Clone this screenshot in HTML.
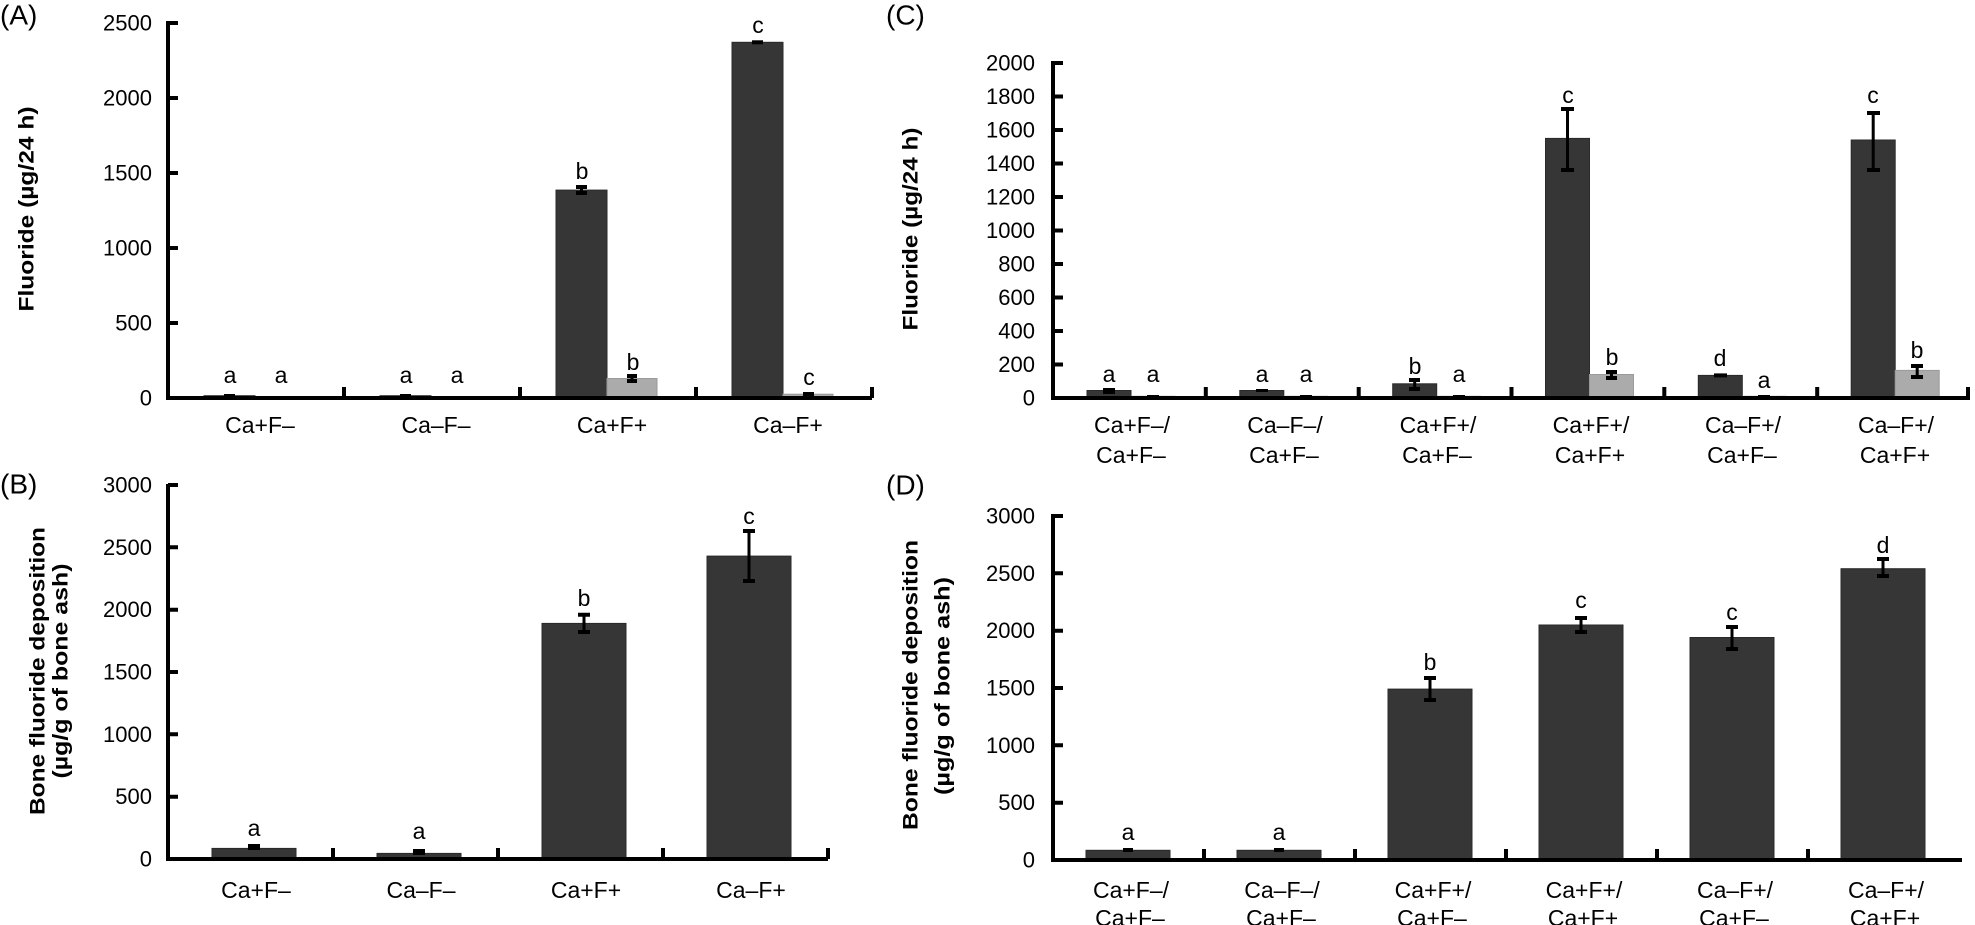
<!DOCTYPE html>
<html><head><meta charset="utf-8"><style>
html,body{margin:0;padding:0;background:#fff;}
svg{display:block;}
text{font-family:"Liberation Sans",sans-serif;fill:#000;}
.t{font-size:22px;text-anchor:end;dominant-baseline:central;}
.c{font-size:23px;text-anchor:middle;}
.l{font-size:23px;text-anchor:middle;}
.p{font-size:28px;dominant-baseline:central;}
.y{font-size:21px;font-weight:bold;text-anchor:middle;dominant-baseline:central;}
.d{fill:#363636;stroke:#2a2a2a;stroke-width:1;}
.g{fill:#ababab;stroke:#9a9a9a;stroke-width:1;}
.ax{stroke:#000;stroke-width:4;fill:none;}
.e{stroke:#000;stroke-width:3;fill:none;}
.k{stroke:#000;stroke-width:4;fill:none;}
</style></head><body>
<svg width="1975" height="925" viewBox="0 0 1975 925" xmlns="http://www.w3.org/2000/svg">
<!-- ================= PANEL A ================= -->
<text class="p" x="0" y="15">(A)</text>
<text class="y" transform="translate(27,209) rotate(-90)" textLength="205" lengthAdjust="spacingAndGlyphs">Fluoride (µg/24 h)</text>
<g>
<text class="t" x="152" y="398">0</text>
<text class="t" x="152" y="323">500</text>
<text class="t" x="152" y="248">1000</text>
<text class="t" x="152" y="173">1500</text>
<text class="t" x="152" y="98">2000</text>
<text class="t" x="152" y="23">2500</text>
</g>
<rect class="d" x="204" y="395.7" width="51" height="2.3"/>
<rect class="g" x="255" y="396.5" width="50" height="1.5"/>
<rect class="d" x="380" y="395.7" width="51" height="2.3"/>
<rect class="g" x="431" y="396.5" width="50" height="1.5"/>
<rect class="d" x="556" y="190.1" width="51" height="207.9"/>
<rect class="g" x="607" y="378.5" width="50" height="19.5"/>
<rect class="d" x="732" y="42.3" width="51" height="355.7"/>
<rect class="g" x="783" y="394.2" width="50" height="3.8"/>
<rect x="224" y="394" width="11" height="3" fill="#000"/>
<rect x="400" y="394" width="11" height="3" fill="#000"/>
<path class="e" d="M581.5 187V193"/><path class="k" d="M576 187H587M576 193H587"/>
<path class="k" d="M752 42.3H763"/>
<path class="e" d="M632 376V381"/><path class="k" d="M627 376H637M627 381H637"/>
<rect x="803" y="392" width="11" height="4" fill="#000"/>
<text class="l" x="230" y="383">a</text><text class="l" x="281" y="383">a</text>
<text class="l" x="406" y="383">a</text><text class="l" x="457" y="383">a</text>
<text class="l" x="582" y="179">b</text><text class="l" x="633" y="370">b</text>
<text class="l" x="758" y="33">c</text><text class="l" x="809" y="385">c</text>
<path class="ax" d="M168 21V398H872"/>
<path class="k" d="M168 323H178M168 248H178M168 173H178M168 98H178M168 23H178"/>
<path class="k" d="M344 398V387M520 398V387M696 398V387M872 398V387"/>
<text class="c" x="260" y="433">Ca+F–</text>
<text class="c" x="436" y="433">Ca–F–</text>
<text class="c" x="612" y="433">Ca+F+</text>
<text class="c" x="788" y="433">Ca–F+</text>

<!-- ================= PANEL B ================= -->
<text class="p" x="0" y="484">(B)</text>
<text class="y" transform="translate(38,671) rotate(-90)" textLength="288" lengthAdjust="spacingAndGlyphs">Bone fluoride deposition</text>
<text class="y" transform="translate(61,671) rotate(-90)" textLength="215" lengthAdjust="spacingAndGlyphs">(µg/g of bone ash)</text>
<text class="t" x="152" y="859">0</text>
<text class="t" x="152" y="796.7">500</text>
<text class="t" x="152" y="734.3">1000</text>
<text class="t" x="152" y="672">1500</text>
<text class="t" x="152" y="609.7">2000</text>
<text class="t" x="152" y="547.3">2500</text>
<text class="t" x="152" y="485">3000</text>
<rect class="d" x="212" y="848.4" width="84" height="10.6"/>
<rect class="d" x="377" y="853.4" width="84" height="5.6"/>
<rect class="d" x="542" y="623.4" width="84" height="235.6"/>
<rect class="d" x="707" y="556.1" width="84" height="302.9"/>
<rect x="248" y="844" width="12" height="6" fill="#000"/>
<rect x="413" y="849" width="12" height="6" fill="#000"/>
<path class="e" d="M584 614.7V632"/><path class="k" d="M578 614.7H590M578 632H590"/>
<path class="e" d="M749 531V581"/><path class="k" d="M743 531H755M743 581H755"/>
<text class="l" x="254" y="836">a</text>
<text class="l" x="419" y="839">a</text>
<text class="l" x="584" y="606">b</text>
<text class="l" x="749" y="524">c</text>
<path class="ax" d="M168 484V859H828"/>
<path class="k" d="M168 796.7H178M168 734.3H178M168 672H178M168 609.7H178M168 547.3H178M168 485H178"/>
<path class="k" d="M333 859V848M498 859V848M663 859V848M828 859V848"/>
<text class="c" x="256" y="898">Ca+F–</text>
<text class="c" x="421" y="898">Ca–F–</text>
<text class="c" x="586" y="898">Ca+F+</text>
<text class="c" x="751" y="898">Ca–F+</text>

<!-- ================= PANEL C ================= -->
<text class="p" x="886" y="15">(C)</text>
<text class="y" transform="translate(911,229) rotate(-90)" textLength="203" lengthAdjust="spacingAndGlyphs">Fluoride (µg/24 h)</text>
<text class="t" x="1035" y="398">0</text>
<text class="t" x="1035" y="364.5">200</text>
<text class="t" x="1035" y="331">400</text>
<text class="t" x="1035" y="297.5">600</text>
<text class="t" x="1035" y="264">800</text>
<text class="t" x="1035" y="230.5">1000</text>
<text class="t" x="1035" y="197">1200</text>
<text class="t" x="1035" y="163.5">1400</text>
<text class="t" x="1035" y="130">1600</text>
<text class="t" x="1035" y="96.5">1800</text>
<text class="t" x="1035" y="63">2000</text>
<rect class="d" x="1087" y="390.5" width="44" height="7.5"/>
<rect class="g" x="1131" y="396.3" width="44" height="1.7"/>
<rect class="d" x="1239.8" y="390.5" width="44" height="7.5"/>
<rect class="g" x="1283.8" y="396.3" width="44" height="1.7"/>
<rect class="d" x="1392.7" y="383.8" width="44" height="14.2"/>
<rect class="g" x="1436.7" y="396.3" width="44" height="1.7"/>
<rect class="d" x="1545.5" y="138.4" width="44" height="259.6"/>
<rect class="g" x="1589.5" y="374.5" width="44" height="23.5"/>
<rect class="d" x="1698.3" y="375.4" width="44" height="22.6"/>
<rect class="g" x="1742.3" y="396.3" width="44" height="1.7"/>
<rect class="d" x="1851.2" y="140" width="44" height="258"/>
<rect class="g" x="1895.2" y="370.4" width="44" height="27.6"/>
<rect x="1103" y="388" width="12" height="6" fill="#000"/>
<rect x="1256" y="389" width="12" height="3" fill="#000"/>
<rect x="1147" y="395" width="12" height="3" fill="#000"/>
<rect x="1300" y="395" width="12" height="3" fill="#000"/>
<rect x="1453" y="395" width="12" height="3" fill="#000"/>
<rect x="1758" y="395" width="12" height="3" fill="#000"/>
<path class="e" d="M1414.7 380V389"/><path class="k" d="M1409 380H1420M1409 389H1420"/>
<path class="e" d="M1567.5 109V170"/><path class="k" d="M1561 109H1574M1561 170H1574"/>
<path class="e" d="M1611.5 372V378"/><path class="k" d="M1606 372H1617M1606 378H1617"/>
<path class="k" d="M1714 375.4H1727"/>
<path class="e" d="M1873.2 113V170"/><path class="k" d="M1867 113H1880M1867 170H1880"/>
<path class="e" d="M1917.2 366V377"/><path class="k" d="M1911 366H1923M1911 377H1923"/>
<text class="l" x="1109" y="382">a</text><text class="l" x="1153" y="382">a</text>
<text class="l" x="1262" y="382">a</text><text class="l" x="1306" y="382">a</text>
<text class="l" x="1415" y="374">b</text><text class="l" x="1459" y="382">a</text>
<text class="l" x="1568" y="103">c</text><text class="l" x="1612" y="365">b</text>
<text class="l" x="1720" y="366">d</text><text class="l" x="1764" y="388">a</text>
<text class="l" x="1873" y="103">c</text><text class="l" x="1917" y="358">b</text>
<path class="ax" d="M1053 61V398H1970"/>
<path class="k" d="M1053 364.5H1063M1053 331H1063M1053 297.5H1063M1053 264H1063M1053 230.5H1063M1053 197H1063M1053 163.5H1063M1053 130H1063M1053 96.5H1063M1053 63H1063"/>
<path class="k" d="M1205.8 398V387M1358.7 398V387M1511.5 398V387M1664.3 398V387M1817.2 398V387M1968 398V387"/>
<text class="c" x="1132" y="433">Ca+F–/</text><text class="c" x="1131" y="463">Ca+F–</text>
<text class="c" x="1285" y="433">Ca–F–/</text><text class="c" x="1284" y="463">Ca+F–</text>
<text class="c" x="1438" y="433">Ca+F+/</text><text class="c" x="1437" y="463">Ca+F–</text>
<text class="c" x="1591" y="433">Ca+F+/</text><text class="c" x="1590" y="463">Ca+F+</text>
<text class="c" x="1743" y="433">Ca–F+/</text><text class="c" x="1742" y="463">Ca+F–</text>
<text class="c" x="1896" y="433">Ca–F+/</text><text class="c" x="1895" y="463">Ca+F+</text>

<!-- ================= PANEL D ================= -->
<text class="p" x="886" y="485">(D)</text>
<text class="y" transform="translate(911,685) rotate(-90)" textLength="290" lengthAdjust="spacingAndGlyphs">Bone fluoride deposition</text>
<text class="y" transform="translate(943,686) rotate(-90)" textLength="218" lengthAdjust="spacingAndGlyphs">(µg/g of bone ash)</text>
<text class="t" x="1035" y="860">0</text>
<text class="t" x="1035" y="802.7">500</text>
<text class="t" x="1035" y="745.3">1000</text>
<text class="t" x="1035" y="688">1500</text>
<text class="t" x="1035" y="630.7">2000</text>
<text class="t" x="1035" y="573.3">2500</text>
<text class="t" x="1035" y="516">3000</text>
<rect class="d" x="1086" y="850.3" width="84" height="9.7"/>
<rect class="d" x="1237" y="850.3" width="84" height="9.7"/>
<rect class="d" x="1388" y="689.1" width="84" height="170.9"/>
<rect class="d" x="1539" y="625" width="84" height="235"/>
<rect class="d" x="1690" y="637.5" width="84" height="222.5"/>
<rect class="d" x="1841" y="568.7" width="84" height="291.3"/>
<rect x="1123" y="848" width="10" height="4" fill="#000"/>
<rect x="1274" y="848" width="10" height="4" fill="#000"/>
<path class="e" d="M1430 678V700"/><path class="k" d="M1424 678H1436M1424 700H1436"/>
<path class="e" d="M1581 618V632"/><path class="k" d="M1575 618H1587M1575 632H1587"/>
<path class="e" d="M1732 627V649"/><path class="k" d="M1726 627H1738M1726 649H1738"/>
<path class="e" d="M1883 559V576"/><path class="k" d="M1877 559H1889M1877 576H1889"/>
<text class="l" x="1128" y="840">a</text>
<text class="l" x="1279" y="840">a</text>
<text class="l" x="1430" y="670">b</text>
<text class="l" x="1581" y="608">c</text>
<text class="l" x="1732" y="620">c</text>
<text class="l" x="1883" y="553">d</text>
<path class="ax" d="M1053 514V860H1962"/>
<path class="k" d="M1053 802.7H1063M1053 745.3H1063M1053 688H1063M1053 630.7H1063M1053 573.3H1063M1053 516H1063"/>
<path class="k" d="M1204 860V849M1355 860V849M1506 860V849M1657 860V849M1808 860V849"/>
<text class="c" x="1131" y="898">Ca+F–/</text><text class="c" x="1130" y="926">Ca+F–</text>
<text class="c" x="1282" y="898">Ca–F–/</text><text class="c" x="1281" y="926">Ca+F–</text>
<text class="c" x="1433" y="898">Ca+F+/</text><text class="c" x="1432" y="926">Ca+F–</text>
<text class="c" x="1584" y="898">Ca+F+/</text><text class="c" x="1583" y="926">Ca+F+</text>
<text class="c" x="1735" y="898">Ca–F+/</text><text class="c" x="1734" y="926">Ca+F–</text>
<text class="c" x="1886" y="898">Ca–F+/</text><text class="c" x="1885" y="926">Ca+F+</text>
</svg>
</body></html>
